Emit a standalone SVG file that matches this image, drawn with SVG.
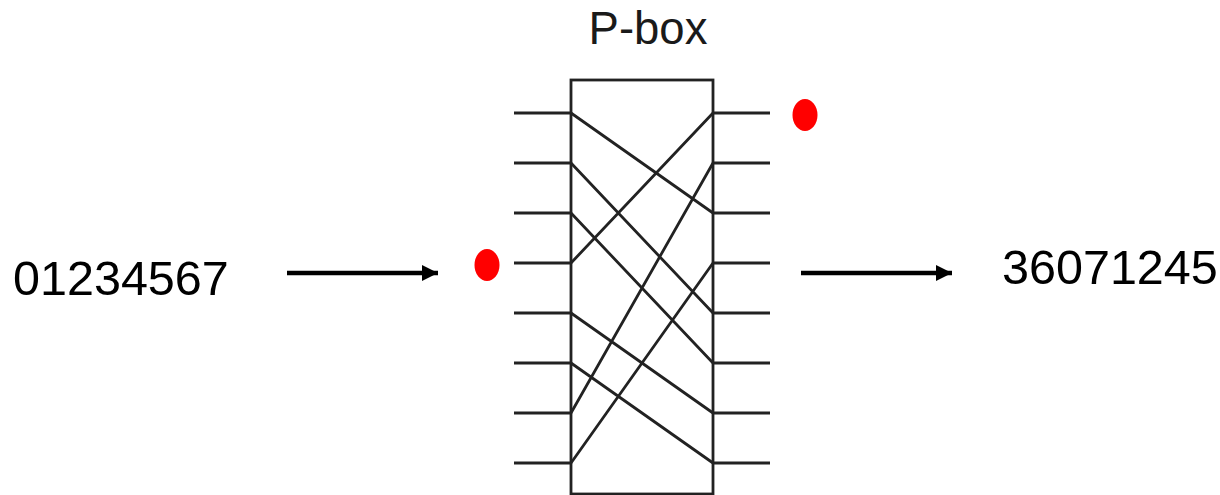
<svg xmlns="http://www.w3.org/2000/svg" width="1220" height="495" viewBox="0 0 1220 495">
<defs><marker id="a" markerWidth="16" markerHeight="16" refX="16" refY="8" orient="auto" markerUnits="userSpaceOnUse"><path d="M0 0L16 8L0 16Z" fill="#000"/></marker></defs>
<style>.w{stroke:#222;stroke-width:2.8;fill:none}.t{font-family:"Liberation Sans",Arial,sans-serif;fill:#000}.d{fill:#f00}.ar{stroke:#000;stroke-width:4.500;fill:none;marker-end:url(#a)}</style>
<rect width="1220" height="495" fill="#fff"/>
<g id="box"><rect class="w" x="571" y="80" width="142" height="414"/></g>
<g id="connectors">
<path class="w" d="M514 113H571M514 163H571M514 213H571M514 263H571M514 313H571M514 363H571M514 413H571M514 463H571M713 113H770M713 163H770M713 213H770M713 263H770M713 313H770M713 363H770M713 413H770M713 463H770"/>
<path class="w" d="M571 113L713 213M571 163L713 313M571 213L713 363M571 263L713 113M571 313L713 413M571 363L713 463M571 413L713 163M571 463L713 263"/>
<path class="ar" d="M287 273H438"/>
<path class="ar" d="M801 273H952"/>
</g>
<g id="label-pbox"><text class="t" x="648" y="44" font-size="45.500" text-anchor="middle" style="fill:#1a1a1a">P-box</text></g>
<g id="input"><text class="t" x="13" y="295" font-size="48.500">01234567</text></g>
<g id="output"><text class="t" x="1002" y="284" font-size="48.500">36071245</text></g>
<g id="dot-in"><ellipse class="d" cx="487" cy="265" rx="12.500" ry="16"/></g>
<g id="dot-out"><ellipse class="d" cx="805" cy="115" rx="12.500" ry="16"/></g>
</svg>
